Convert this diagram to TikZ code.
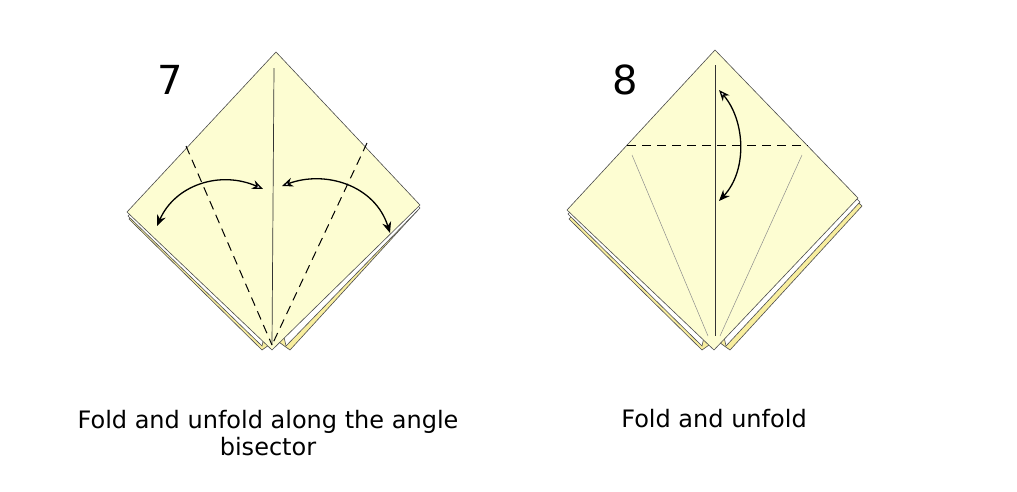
\documentclass[tikz,border=0pt]{standalone}
\usepackage{fontspec}
\setmainfont{DejaVu Sans}
\usetikzlibrary{arrows.meta}
\definecolor{paper}{HTML}{FDFDD2}
\definecolor{backy}{HTML}{F8EE9E}
\tikzset{x=1pt,y=-1pt,
 front/.style={fill=paper,draw=black!70,line width=0.6pt},
 backl/.style={fill=backy,draw=black!70,line width=0.6pt},
 whitel/.style={fill=white,draw=black!70,line width=0.6pt},
 crease/.style={dash pattern=on 9pt off 6pt,line width=1pt},
 mline/.style={line width=0.7pt,black!80},
 faint/.style={line width=0.5pt,black!45},
 arr/.style={line width=1.3pt,{Stealth[open,fill=white,length=11pt,width=9pt]}-{Stealth[length=11pt,width=9pt]}},
 num/.style={font=\fontsize{40}{40}\selectfont},
 captext/.style={font=\fontsize{24}{27}\selectfont,align=center}}
\begin{document}
\begin{tikzpicture}
\useasboundingbox (0,0) rectangle (1017,491);
% figure 7
\draw[backl] (129,219)--(262,350)--(276,340)--(290,350)--(417,211)--(276,70)--cycle;
\draw[whitel] (128,216)--(262,346)--(264,337)--(274,346)--(284,337)--(286,346)--(420,208)--(276,60)--cycle;
\draw[front] (276,52)--(127,212)--(272,350)--(420,205)--cycle;
\coordinate (t7) at (274,68); \coordinate (b7) at (272,345);
\draw[mline] (t7)--(b7);
\coordinate (d1) at (186,146); \coordinate (d2) at (367,143);
\draw[crease] (d1)--(b7); \draw[crease] (d2)--(b7);
\coordinate (a1) at (263,189); \coordinate (a2) at (157,226);
\coordinate (a3) at (282,186); \coordinate (a4) at (390,233);
\draw[arr] (a1) .. controls (220,170) and (175,185) .. (a2);
\draw[arr] (a3) .. controls (325,170) and (375,185) .. (a4);
\node[num] (n7) at (170,80) {7};
\node[captext] (c7) at (268,433) {Fold and unfold along the angle\\bisector};
% figure 8
\draw[backl] (569,219)--(702,350)--(716,340)--(730,350)--(862,206)--(716,70)--cycle;
\draw[whitel] (568,214)--(702,346)--(704,337)--(714,346)--(724,337)--(726,346)--(860,202)--(716,60)--cycle;
\draw[front] (715,50)--(567,210)--(714,350)--(858,198)--cycle;
\coordinate (t8) at (715,65); \coordinate (b8) at (715,336);
\draw[mline] (t8)--(b8);
\coordinate (g1) at (632,155); \coordinate (g2) at (802,155);
\draw[faint] (g1)--(708,336); \draw[faint] (g2)--(720,336);
\coordinate (h1) at (627,145); \coordinate (h2) at (808,145);
\draw[crease] (h1)--(h2);
\coordinate (e1) at (719,90); \coordinate (e2) at (719,201);
\draw[arr] (e1) .. controls (745,120) and (748,170) .. (e2);
\node[num] (n8) at (625,80) {8};
\node[captext] (c8) at (714,419) {Fold and unfold};
\end{tikzpicture}
\end{document}
